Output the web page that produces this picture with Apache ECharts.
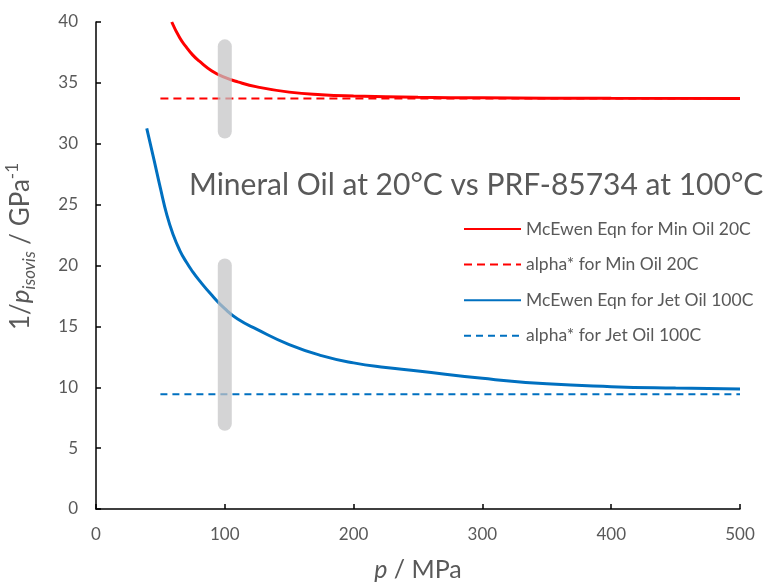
<!DOCTYPE html>
<html>
<head>
<meta charset="utf-8">
<script src="https://cdn.jsdelivr.net/npm/echarts@6/dist/echarts.min.js"></script>
<style>html,body{margin:0;padding:0;background:#fff}#c{width:766px;height:583px}</style>
</head>
<body>
<div id="c"></div>
<script>
// ---- data ----
const titleText = 'Mineral Oil at 20°C vs PRF-85734 at 100°C';
const seriesNames = ['McEwen Eqn for Min Oil 20C', 'alpha* for Min Oil 20C', 'McEwen Eqn for Jet Oil 100C', 'alpha* for Jet Oil 100C'];
const minOilP = [58.8, 65, 70, 75, 80, 90, 100, 110, 125, 150, 175, 200, 250, 300, 400, 500];
const minOilInv = [40.0, 38.7, 37.95, 37.3, 36.8, 35.98, 35.45, 35.08, 34.67, 34.24, 34.02, 33.92, 33.82, 33.77, 33.73, 33.72];
const minOilAlphaP = [50, 500];
const minOilAlpha = [33.72, 33.72];
const jetOilP = [39.4, 45, 50, 55, 60, 65, 70, 75, 80, 90, 100, 110, 125, 150, 175, 200, 225, 250, 300, 350, 400, 450, 500];
const jetOilInv = [31.26, 28.7, 26.35, 24.15, 22.5, 21.25, 20.3, 19.5, 18.8, 17.55, 16.45, 15.6, 14.75, 13.5, 12.6, 12.0, 11.62, 11.33, 10.73, 10.28, 10.05, 9.93, 9.85];
const jetOilAlphaP = [50, 500];
const jetOilAlpha = [9.42, 9.42];
const markerP = [100, 100];
const markerUpper = [31, 38];
const markerLower = [7, 20];
const xTicks = [0, 100, 200, 300, 400, 500];
const yTicks = [0, 5, 10, 15, 20, 25, 30, 35, 40];

const zip = (a, b) => a.map((v, i) => [v, b[i]]);
const FONT = 'Lato';
const TXT = '#595959';

const chart = echarts.init(document.getElementById('c'));
chart.setOption({
  animation: false,
  textStyle: { fontFamily: FONT },
  title: {
    text: titleText, left: 189, top: 170, padding: 0,
    textStyle: { fontFamily: FONT, fontSize: 30, fontWeight: 'normal', color: TXT }
  },
  grid: { left: 96, right: 26, top: 22, bottom: 74, outerBoundsMode: 'none', containLabel: false },
  legend: {
    data: seriesNames, orient: 'vertical', left: 463, top: 219, padding: 0,
    itemWidth: 57, itemHeight: 14, itemGap: 15.6,
    itemStyle: { opacity: 0 },
    textStyle: { fontFamily: FONT, fontSize: 17.5, color: TXT, lineHeight: 20 }
  },
  xAxis: {
    type: 'value', min: xTicks[0], max: xTicks[xTicks.length - 1], interval: 100,
    name: '{i|p}{a| / MPa}', nameLocation: 'middle', nameGap: 48,
    nameTextStyle: { rich: {
      i: { fontFamily: FONT, fontSize: 25, fontStyle: 'italic', color: TXT },
      a: { fontFamily: FONT, fontSize: 25, color: TXT } } },
    axisLine: { lineStyle: { color: '#000', width: 1.5 } },
    axisTick: { inside: true, length: 5, lineStyle: { color: '#000', width: 1.5 } },
    axisLabel: { fontFamily: FONT, fontSize: 17, color: TXT, margin: 17 },
    splitLine: { show: false }
  },
  yAxis: {
    type: 'value', min: yTicks[0], max: yTicks[yTicks.length - 1], interval: 5,
    name: '{a|1/}{i|p}{s|isovis}{a| / GPa}{u|-1}', nameLocation: 'middle', nameGap: 58,
    nameTextStyle: { padding: [0, 0, 0, 38], rich: {
      a: { fontFamily: FONT, fontSize: 26, color: TXT, lineHeight: 34, verticalAlign: 'middle' },
      i: { fontFamily: FONT, fontSize: 26, fontStyle: 'italic', color: TXT, lineHeight: 34, verticalAlign: 'middle' },
      s: { fontFamily: FONT, fontSize: 17, fontStyle: 'italic', color: TXT, lineHeight: 17, verticalAlign: 'bottom' },
      u: { fontFamily: FONT, fontSize: 17, color: TXT, lineHeight: 17, verticalAlign: 'top' } } },
    axisLine: { show: true, lineStyle: { color: '#000', width: 1.5 } },
    axisTick: { show: true, inside: true, length: 5, lineStyle: { color: '#000', width: 1.5 } },
    axisLabel: { fontFamily: FONT, fontSize: 17, color: TXT, margin: 18 },
    splitLine: { show: false }
  },
  series: [
    { name: seriesNames[0], type: 'line', data: zip(minOilP, minOilInv), smooth: 0.5, showSymbol: false, symbol: 'none',
      lineStyle: { color: '#FF0000', width: 3 }, itemStyle: { color: '#FF0000' }, z: 3 },
    { name: seriesNames[1], type: 'line', data: zip(minOilAlphaP, minOilAlpha), showSymbol: false, symbol: 'none',
      lineStyle: { color: '#FF0000', width: 2, type: [8, 5] }, itemStyle: { color: '#FF0000' }, z: 3 },
    { name: seriesNames[2], type: 'line', data: zip(jetOilP, jetOilInv), smooth: 0.5, showSymbol: false, symbol: 'none',
      lineStyle: { color: '#0070C0', width: 3 }, itemStyle: { color: '#0070C0' }, z: 3 },
    { name: seriesNames[3], type: 'line', data: zip(jetOilAlphaP, jetOilAlpha), showSymbol: false, symbol: 'none',
      lineStyle: { color: '#0070C0', width: 2, type: [7, 5] }, itemStyle: { color: '#0070C0' }, z: 3 },
    { name: 'marker upper', type: 'line', data: zip(markerP, markerUpper), showSymbol: false, symbol: 'none',
      lineStyle: { color: 'rgba(195,195,197,0.72)', width: 14, cap: 'round' }, z: 5, silent: true },
    { name: 'marker lower', type: 'line', data: zip(markerP, markerLower), showSymbol: false, symbol: 'none',
      lineStyle: { color: 'rgba(195,195,197,0.72)', width: 14, cap: 'round' }, z: 5, silent: true }
  ]
});
</script>
</body>
</html>
